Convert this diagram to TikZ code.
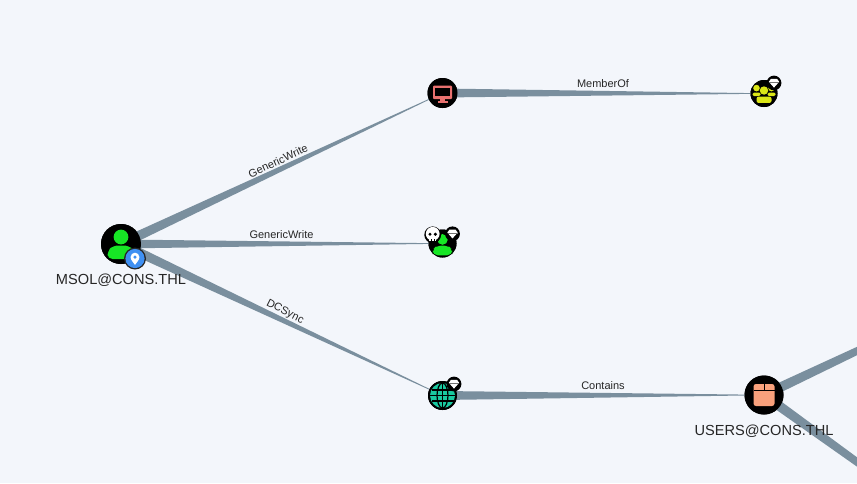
\documentclass[tikz,border=0pt]{standalone}
\usepackage{fontspec}
\setmainfont{Liberation Sans}
\usetikzlibrary{calc}
\definecolor{pagebg}{HTML}{F3F6FB}
\definecolor{edgecol}{HTML}{7A8F9E}
\definecolor{inkcol}{HTML}{262626}
\definecolor{usergreen}{HTML}{17E625}
\definecolor{compred}{HTML}{E8716F}
\definecolor{groupyellow}{HTML}{DBE617}
\definecolor{domainteal}{HTML}{19C9A0}
\definecolor{ouorange}{HTML}{F9A17C}
\definecolor{pinblue}{HTML}{3F90F2}

% Tapered connector: wide at its source, nearly nothing at its target
\newcommand{\taperedge}[3]{%
  \fill[edgecol] ($(#1)!#3pt!90:(#2)$) -- ($(#2)!0.2pt!-90:(#1)$)
    -- ($(#2)!0.2pt!90:(#1)$) -- ($(#1)!#3pt!-90:(#2)$) -- cycle;}

\tikzset{
  disc/.style={circle,fill=black,inner sep=0pt,minimum size=#1},
  nodelabel/.style={text=inkcol,font=\fontsize{14.6}{18}\selectfont,inner sep=0pt},
  edgelabel/.style={text=inkcol,font=\fontsize{11}{13}\selectfont,inner sep=0pt},
  pics/personicon/.style={code={
    \fill[usergreen] (0,-7) circle[radius=7.4];
    \fill[usergreen,rounded corners=5pt] (-13.5,15) -- (-13.5,7) -- (-8,1.5) -- (8,1.5) -- (13.5,7) -- (13.5,15) -- cycle;
  }},
  pics/screenicon/.style={code={
    \fill[compred,rounded corners=1pt] (-9.5,-7.5) rectangle (9.5,6);
    \fill[black] (-7.2,-5.2) rectangle (7.2,3.4);
    \fill[compred] (-2.2,6) rectangle (2.2,8.6);
    \fill[compred] (-5,8.2) rectangle (5,10);
  }},
  pics/crowdicon/.style={code={
    \foreach \dx/\dy in {-7.5/-2,7.5/-2}{
      \fill[groupyellow] (\dx,\dy-3.4) circle[radius=3.3];
      \fill[groupyellow,rounded corners=1.5pt] (\dx-4,\dy+4.6) -- (\dx-4,\dy+1) -- (\dx+4,\dy+1) -- (\dx+4,\dy+4.6) -- cycle;
    }
    \fill[groupyellow] (0,-3) circle[radius=4.2];
    \fill[groupyellow,rounded corners=2pt] (-7.5,9.4) -- (-7.5,3.2) -- (7.5,3.2) -- (7.5,9.4) -- cycle;
  }},
  pics/globeicon/.style={code={
    \fill[domainteal] (0,0) circle[radius=12.5];
    \draw[black,line width=1.2pt] (0,0) ellipse[x radius=5.5,y radius=12.5];
    \draw[black,line width=1.2pt] (0,-12.5) -- (0,12.5);
    \draw[black,line width=1.2pt] (-12.5,0) -- (12.5,0);
    \draw[black,line width=1.2pt] (-11,-5.5) -- (11,-5.5);
    \draw[black,line width=1.2pt] (-11,5.5) -- (11,5.5);
  }},
  pics/boxicon/.style={code={
    \fill[ouorange,rounded corners=2.5pt] (-10.5,-11) rectangle (10.5,11);
    \draw[black,line width=1pt] (-10.5,-4.5) -- (10.5,-4.5);
    \draw[black,line width=1pt] (0,-11) -- (0,-4.5);
  }},
  pics/gembadge/.style={code={
    \fill[black] (0,0) circle[radius=7.4];
    \fill[white] (-5.2,-1.2) -- (-3,-4.2) -- (3,-4.2) -- (5.2,-1.2) -- (0,4.6) -- cycle;
    \draw[black!55,line width=.4pt] (-5,-1) -- (5,-1);
  }},
  pics/skullbadge/.style={code={
    \fill[black] (0,0) circle[radius=8.4];
    \fill[white] (0,-1) circle[radius=6.9];
    \fill[white] (-3.6,1) rectangle (3.6,6.6);
    \fill[black] (-2.7,-.6) circle[radius=1.7];
    \fill[black] (2.7,-.6) circle[radius=1.7];
    \draw[black,line width=.4pt] (-1.2,4.4) -- (-1.2,6.6) (1.2,4.4) -- (1.2,6.6);
  }},
  pics/pinbadge/.style={code={
    \fill[inkcol] (0,0) circle[radius=11];
    \fill[pinblue] (0,0) circle[radius=9.6];
    \fill[white] (-4.4,-1.4) arc[start angle=180,end angle=360,radius=4.4]
      .. controls (4.4,1.6) and (1.4,4) .. (0,6.4)
      .. controls (-1.4,4) and (-4.4,1.6) .. cycle;
    \fill[pinblue] (0,-1.4) circle[radius=1.7];
  }},
}

\begin{document}
\begin{tikzpicture}[x=1pt,y=-1pt]
  \useasboundingbox (0,0) rectangle (857,483);
  \fill[pagebg] (0,0) rectangle (857,483);

  % Node discs come first so that connectors can refer to them by name
  \node[disc=40pt] (msol) at (121,244) {};
  \node[disc=30pt] (comp) at (442.5,93) {};
  \node[disc=27pt] (grp) at (764,93.5) {};
  \node[disc=28pt] (usr) at (442.5,243.5) {};
  \node[disc=29pt] (dom) at (442.5,395.5) {};
  \node[disc=39pt] (ou) at (764,395) {};
  \coordinate (offa) at (1136,219);
  \coordinate (offb) at (1136,663);

  % Connectors, kept inside the page, beneath the nodes
  \begin{scope}
    \clip (0,0) rectangle (857,483);
    \taperedge{msol}{comp}{5}
    \taperedge{msol}{usr}{4.5}
    \taperedge{msol}{dom}{5}
    \taperedge{comp}{grp}{4.5}
    \taperedge{dom}{ou}{4.5}
    \taperedge{ou}{offa}{5}
    \taperedge{ou}{offb}{5}
  \end{scope}

  % Discs again, on top of the connectors
  \fill[black] (msol) circle[radius=20];
  \fill[black] (comp) circle[radius=15];
  \fill[black] (grp) circle[radius=13.5];
  \fill[black] (usr) circle[radius=14];
  \fill[black] (dom) circle[radius=14.5];
  \fill[black] (ou) circle[radius=19.5];

  % Icons and badges
  \pic at (msol) {personicon};
  \pic at ($(msol)+(14,14.5)$) {pinbadge};
  \pic at (comp) {screenicon};
  \pic at (grp) {crowdicon};
  \pic at ($(grp)+(10,-10.5)$) {gembadge};
  \pic[scale=.72] at ($(usr)+(0,1)$) {personicon};
  \pic at ($(usr)+(-9.8,-8.7)$) {skullbadge};
  \pic at ($(usr)+(10,-9.7)$) {gembadge};
  \pic at (dom) {globeicon};
  \pic at ($(dom)+(11.5,-11.5)$) {gembadge};
  \pic at (ou) {boxicon};

  % Node captions
  \node[nodelabel] (msolcap) at (121,280.5) {MSOL@CONS.THL};
  \node[nodelabel] (oucap) at (764,431.5) {USERS@CONS.THL};

  % Connector captions
  \node[edgelabel,rotate=25] (lba) at (278,161) {GenericWrite};
  \node[edgelabel] (lbb) at (281.5,235) {GenericWrite};
  \node[edgelabel,rotate=-27] (lbc) at (285,312) {DCSync};
  \node[edgelabel] (lbd) at (603,84) {MemberOf};
  \node[edgelabel] (lbe) at (603,386) {Contains};
\end{tikzpicture}
\end{document}
